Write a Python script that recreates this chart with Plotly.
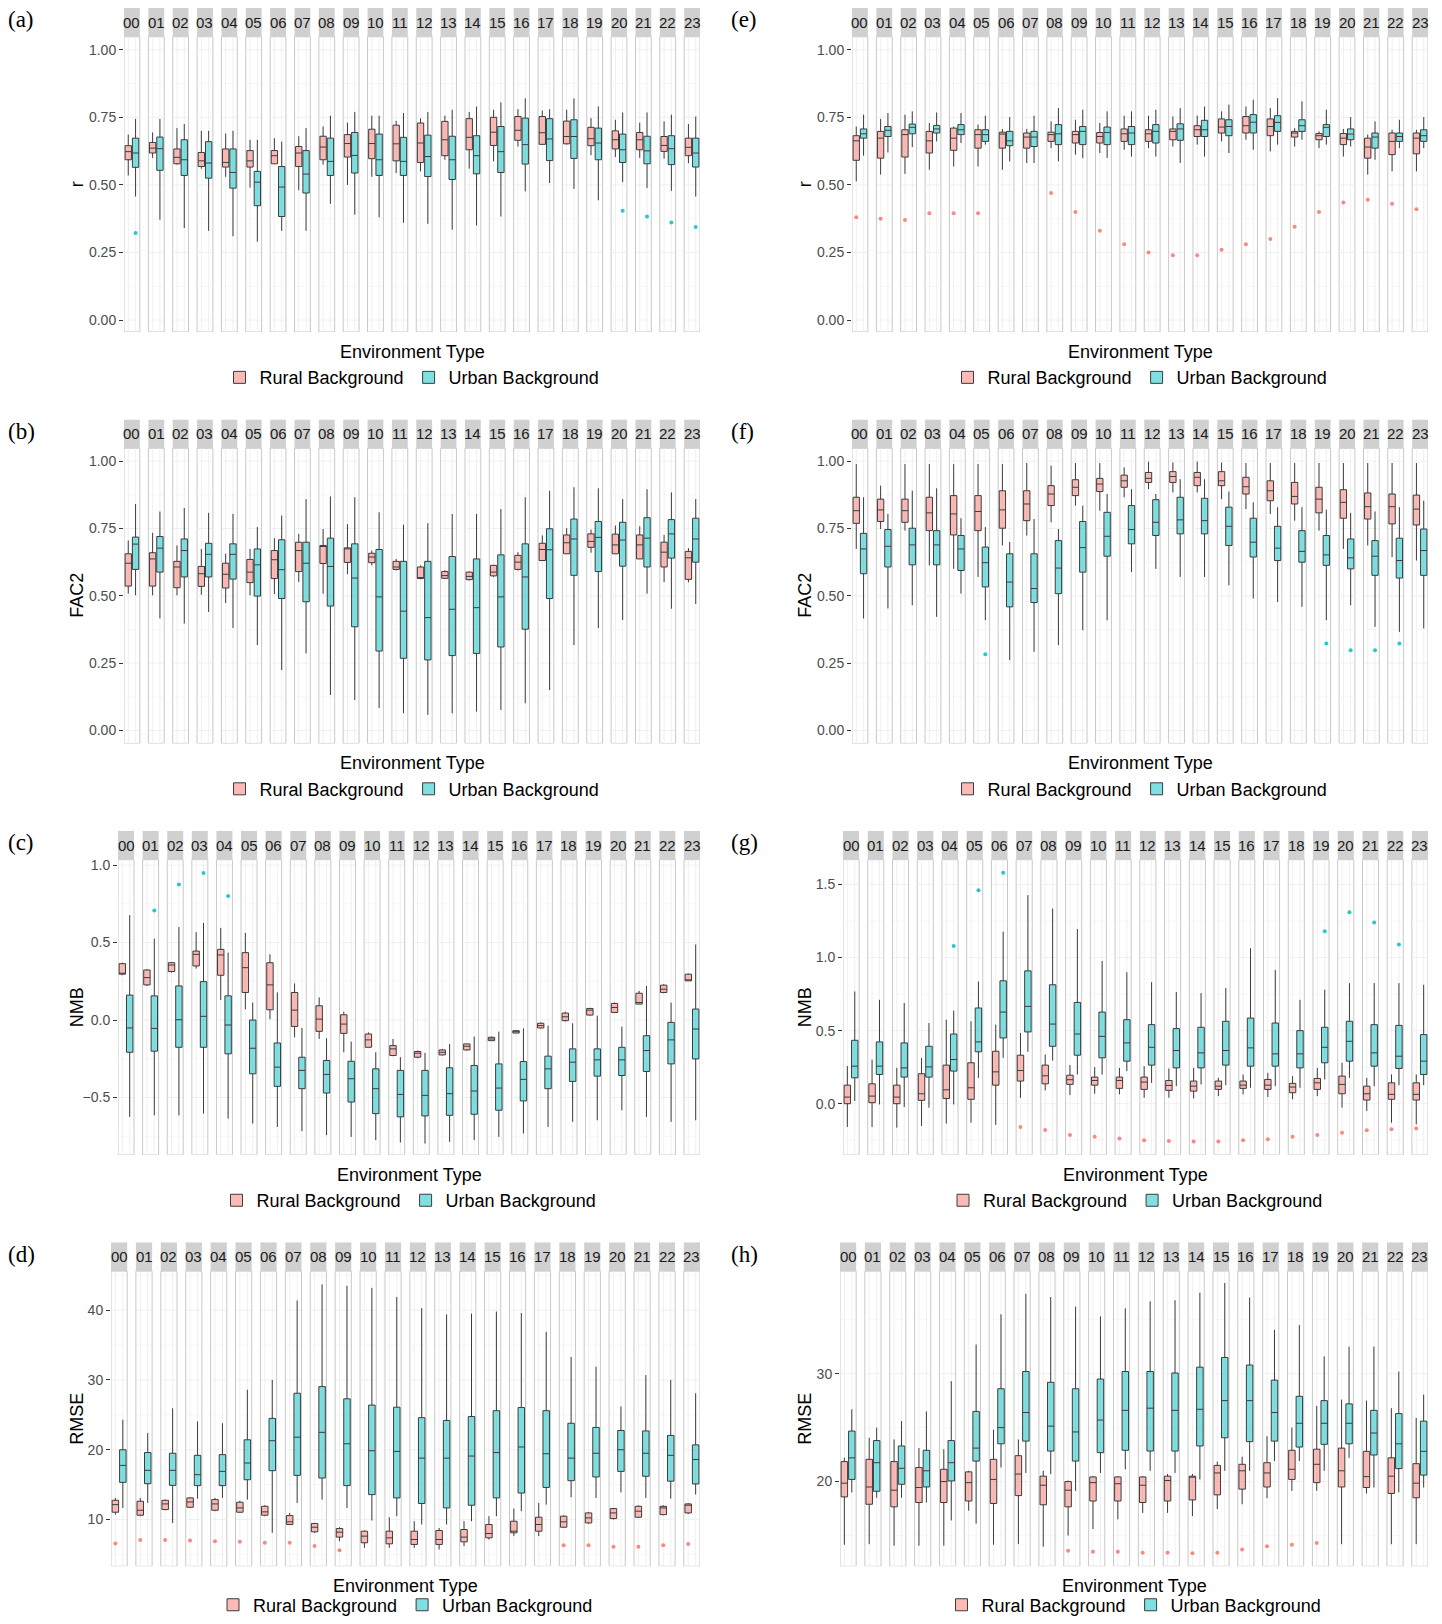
import plotly.graph_objects as go

# hour facets and groups
HOURS = ["00", "01", "02", "03", "04", "05", "06", "07", "08", "09", "10", "11",
         "12", "13", "14", "15", "16", "17", "18", "19", "20", "21", "22", "23"]
GROUPS = ["Rural Background", "Urban Background"]

# ---- (a) r, left column ----
A_RURAL_LO = [.535, .60, .575, .56, .53, .49, .58, .48, .575, .50, .53, .544, .55, .593, .56, .587, .642, .649, .649, .61, .603, .60, .597, .58]
A_RURAL_Q1 = [.593, .618, .578, .568, .566, .566, .578, .568, .593, .603, .597, .589, .583, .608, .63, .646, .665, .65, .652, .645, .633, .63, .624, .608]
A_RURAL_MED = [.623, .636, .602, .589, .583, .589, .608, .618, .64, .653, .653, .652, .655, .667, .676, .695, .702, .693, .679, .671, .667, .667, .646, .639]
A_RURAL_Q3 = [.645, .657, .633, .62, .633, .627, .627, .642, .68, .686, .706, .721, .729, .735, .745, .75, .753, .753, .736, .713, .70, .694, .679, .673]
A_RURAL_HI = [.686, .694, .71, .70, .69, .667, .673, .68, .716, .73, .756, .737, .746, .756, .77, .778, .78, .775, .778, .747, .741, .73, .735, .725]
A_URBAN_LO = [.457, .371, .34, .33, .31, .29, .33, .33, .43, .39, .38, .36, .356, .334, .35, .383, .476, .507, .485, .443, .51, .488, .478, .457]
A_URBAN_Q1 = [.565, .554, .535, .525, .488, .423, .383, .47, .535, .544, .535, .535, .531, .52, .541, .546, .577, .59, .598, .593, .583, .578, .575, .566]
A_URBAN_MED = [.618, .634, .593, .581, .546, .51, .492, .54, .587, .609, .593, .587, .605, .593, .608, .623, .649, .67, .679, .655, .63, .626, .634, .618]
A_URBAN_Q3 = [.673, .677, .667, .66, .633, .55, .568, .627, .673, .694, .688, .676, .684, .68, .682, .716, .747, .745, .741, .71, .688, .68, .682, .673]
A_URBAN_HI = [.744, .744, .725, .70, .70, .667, .66, .71, .756, .77, .756, .766, .77, .778, .79, .805, .82, .78, .82, .79, .768, .768, .76, .753]
A_URBAN_OUT_H = ["00", "20", "21", "22", "23"]
A_URBAN_OUT_V = [.322, .404, .383, .361, .344]

# ---- (b) FAC2, left column ----
B_RURAL_LO = [.508, .502, .502, .504, .473, .502, .506, .551, .508, .58, .613, .594, .562, .562, .557, .57, .594, .631, .656, .66, .656, .637, .551, .55]
B_RURAL_Q1 = [.536, .536, .53, .535, .529, .549, .564, .59, .62, .624, .623, .598, .564, .565, .56, .574, .598, .631, .656, .68, .656, .637, .607, .561]
B_RURAL_MED = [.621, .637, .607, .582, .58, .588, .634, .668, .683, .677, .644, .607, .567, .575, .572, .588, .625, .672, .697, .702, .689, .689, .662, .641]
B_RURAL_Q3 = [.656, .66, .628, .609, .621, .635, .668, .699, .687, .678, .658, .628, .607, .59, .588, .613, .65, .695, .726, .73, .729, .726, .699, .665]
B_RURAL_HI = [.705, .734, .687, .674, .656, .674, .714, .73, .748, .766, .668, .637, .613, .595, .59, .615, .662, .724, .751, .746, .761, .758, .726, .677]
B_URBAN_LO = [.502, .416, .397, .44, .381, .317, .224, .286, .132, .113, .083, .064, .058, .064, .07, .076, .101, .15, .317, .38, .41, .508, .452, .47]
B_URBAN_Q1 = [.598, .588, .57, .57, .562, .499, .49, .478, .462, .385, .295, .268, .262, .278, .286, .31, .376, .49, .576, .59, .61, .607, .64, .625]
B_URBAN_MED = [.692, .677, .668, .654, .654, .615, .597, .621, .609, .566, .496, .443, .419, .45, .456, .496, .57, .671, .711, .717, .707, .714, .73, .711]
B_URBAN_Q3 = [.718, .72, .711, .695, .693, .674, .708, .699, .714, .693, .672, .628, .628, .646, .637, .652, .693, .749, .785, .776, .773, .79, .783, .788]
B_URBAN_HI = [.841, .813, .826, .808, .804, .755, .798, .859, .869, .866, .81, .764, .77, .804, .804, .822, .866, .89, .903, .899, .859, .896, .884, .859]

# ---- (c) NMB, left column ----
C_RURAL_LO = [.289, .22, .306, .332, .13, .07, .006, -.111, -.122, -.208, -.176, -.233, -.246, -.229, -.197, -.133, -.084, -.054, -.009, .028, .045, .103, .173, .253]
C_RURAL_Q1 = [.296, .227, .313, .349, .289, .178, .066, -.041, -.073, -.086, -.176, -.229, -.24, -.225, -.193, -.133, -.084, -.051, -.004, .032, .049, .103, .178, .253]
C_RURAL_MED = [.302, .274, .355, .424, .42, .338, .227, .064, .006, -.026, -.128, -.186, -.214, -.208, -.169, -.122, -.075, -.036, .021, .064, .081, .113, .199, .259]
C_RURAL_Q3 = [.364, .323, .37, .445, .456, .435, .37, .178, .092, .034, -.09, -.165, -.203, -.193, -.154, -.111, -.069, -.021, .045, .075, .107, .173, .225, .296]
C_RURAL_HI = [.37, .328, .375, .567, .595, .563, .424, .236, .146, .054, -.079, -.122, -.197, -.186, -.154, -.107, -.064, -.015, .054, .075, .113, .188, .231, .30]
C_URBAN_LO = [-.625, -.615, -.615, -.604, -.636, -.668, -.69, -.717, -.743, -.754, -.775, -.79, -.797, -.786, -.775, -.754, -.732, -.69, -.657, -.647, -.582, -.625, -.657, -.647]
C_URBAN_Q1 = [-.208, -.201, -.176, -.176, -.218, -.347, -.428, -.443, -.471, -.529, -.604, -.625, -.619, -.615, -.608, -.582, -.522, -.443, -.396, -.362, -.358, -.332, -.283, -.251]
C_URBAN_MED = [-.051, -.054, .002, .024, -.032, -.182, -.304, -.325, -.351, -.379, -.443, -.48, -.486, -.475, -.458, -.439, -.383, -.315, -.272, -.257, -.257, -.197, -.128, -.058]
C_URBAN_Q3 = [.161, .156, .22, .248, .156, 0, -.148, -.24, -.261, -.266, -.315, -.325, -.325, -.308, -.293, -.283, -.268, -.233, -.186, -.186, -.176, -.101, -.015, .071]
C_URBAN_HI = [.677, .525, .60, .627, .435, .113, .178, -.051, -.118, -.139, -.208, -.24, -.212, -.154, -.107, -.075, -.054, -.036, -.021, .028, -.043, .22, .113, .488]
C_URBAN_OUT_H = ["01", "02", "03", "04"]
C_URBAN_OUT_V = [.707, .874, .949, .80]

# ---- (d) RMSE, left column ----
D_RURAL_LO = [10.7, 10.48, 11.33, 11.67, 11.2, 10.95, 10.48, 9.29, 8.1, 6.9, 5.95, 5.95, 5.95, 5.7, 6.2, 7.14, 7.62, 7.62, 8.8, 9.38, 10.0, 10.24, 10.62, 10.8]
D_RURAL_Q1 = [11.05, 10.62, 11.43, 11.76, 11.33, 11.05, 10.62, 9.29, 8.24, 7.48, 6.67, 6.52, 6.43, 6.43, 6.8, 7.38, 8.1, 8.33, 8.9, 9.52, 10.14, 10.33, 10.7, 10.95]
D_RURAL_MED = [12.14, 11.33, 12.24, 12.52, 12.24, 11.67, 11.1, 9.67, 8.9, 8.19, 7.62, 7.38, 7.14, 7.14, 7.48, 8.0, 8.33, 9.29, 9.67, 10.24, 10.95, 11.2, 11.67, 12.05]
D_RURAL_Q3 = [12.76, 12.62, 12.76, 13.1, 12.86, 12.48, 11.9, 10.57, 9.43, 8.71, 8.33, 8.33, 8.33, 8.43, 8.57, 9.29, 9.76, 10.33, 10.48, 10.95, 11.57, 11.9, 11.9, 12.24]
D_RURAL_HI = [13.1, 13.1, 12.86, 13.2, 13.1, 12.7, 12.05, 10.95, 9.52, 8.9, 8.43, 10.33, 9.76, 8.8, 9.76, 10.48, 11.57, 12.38, 10.62, 11.1, 11.67, 12.05, 12.05, 12.38]
D_URBAN_LO = [11.67, 12.38, 9.5, 13.0, 13.1, 12.86, 8.1, 12.38, 12.86, 11.67, 9.86, 10.48, 9.3, 9.3, 9.76, 10.48, 11.2, 12.14, 13.2, 13.1, 13.9, 13.1, 13.0, 13.6]
D_URBAN_Q1 = [15.33, 15.14, 14.9, 14.86, 14.86, 15.7, 17.0, 16.33, 15.95, 14.86, 13.57, 13.1, 12.3, 11.67, 12.05, 13.1, 13.8, 14.6, 15.57, 16.1, 16.9, 16.2, 15.5, 15.1]
D_URBAN_MED = [17.76, 17.05, 17.05, 16.43, 16.9, 18.1, 21.3, 21.8, 22.5, 20.86, 19.86, 19.76, 18.8, 18.8, 19.1, 19.6, 20.4, 19.43, 18.8, 19.5, 20.0, 19.5, 19.2, 18.6]
D_URBAN_Q3 = [20.0, 19.6, 19.5, 19.2, 19.3, 21.43, 24.5, 28.1, 29.05, 27.3, 26.4, 26.1, 24.6, 24.2, 24.76, 25.6, 26.05, 25.6, 23.8, 23.2, 22.76, 22.7, 22.05, 20.7]
D_URBAN_HI = [24.3, 22.4, 25.95, 24.05, 23.8, 28.6, 30.0, 41.4, 43.7, 43.5, 43.2, 41.9, 40.3, 39.4, 39.5, 39.8, 39.6, 36.9, 33.3, 31.9, 26.2, 30.7, 30.0, 28.1]
D_RURAL_OUT_H = ["00", "01", "02", "03", "04", "05", "06", "07", "08", "09", "18", "19", "20", "21", "22", "23"]
D_RURAL_OUT_V = [6.57, 7.05, 7.05, 7.0, 6.9, 6.8, 6.67, 6.67, 6.2, 5.6, 6.33, 6.33, 6.1, 6.1, 6.33, 6.5]

# ---- (e) r, right column ----
E_RURAL_LO = [.513, .538, .541, .556, .568, .568, .556, .581, .636, .612, .618, .63, .636, .642, .649, .661, .667, .624, .642, .636, .605, .538, .55, .55]
E_RURAL_Q1 = [.591, .599, .603, .618, .628, .636, .636, .636, .661, .655, .655, .661, .661, .667, .679, .692, .692, .682, .677, .667, .649, .599, .612, .615]
E_RURAL_MED = [.663, .673, .686, .663, .673, .686, .688, .677, .686, .686, .679, .689, .689, .698, .704, .714, .719, .716, .692, .682, .673, .64, .661, .673]
E_RURAL_Q3 = [.682, .698, .704, .698, .71, .704, .695, .692, .695, .698, .694, .707, .704, .707, .719, .744, .753, .744, .698, .69, .69, .673, .692, .692]
E_RURAL_HI = [.716, .744, .76, .729, .716, .723, .707, .707, .735, .741, .729, .756, .756, .753, .756, .772, .79, .784, .71, .698, .707, .686, .704, .704]
E_URBAN_LO = [.608, .62, .64, .661, .655, .649, .587, .581, .587, .599, .60, .605, .605, .581, .605, .618, .63, .649, .667, .649, .642, .593, .636, .636]
E_URBAN_Q1 = [.673, .679, .689, .692, .686, .661, .645, .642, .649, .649, .649, .649, .655, .665, .679, .682, .692, .698, .698, .679, .667, .636, .661, .661]
E_URBAN_MED = [.689, .702, .713, .707, .704, .686, .663, .677, .689, .698, .694, .692, .698, .707, .704, .716, .732, .731, .719, .713, .688, .677, .679, .682]
E_URBAN_Q3 = [.707, .716, .725, .72, .723, .704, .698, .698, .723, .716, .714, .716, .723, .726, .739, .741, .76, .756, .741, .723, .707, .692, .692, .704]
E_URBAN_HI = [.76, .766, .772, .768, .766, .756, .751, .756, .784, .778, .772, .772, .778, .784, .79, .797, .815, .821, .809, .778, .751, .735, .741, .751]
E_RURAL_OUT_H = ["00", "01", "02", "03", "04", "05", "08", "09", "10", "11", "12", "13", "14", "15", "16", "17", "18", "19", "20", "21", "22", "23"]
E_RURAL_OUT_V = [.38, .375, .37, .395, .395, .395, .47, .40, .33, .28, .25, .24, .24, .26, .28, .30, .345, .40, .435, .445, .43, .41]

# ---- (f) FAC2, right column ----
F_RURAL_LO = [.674, .748, .742, .613, .60, .57, .687, .724, .773, .835, .816, .866, .896, .884, .884, .859, .822, .804, .779, .742, .674, .687, .644, .631]
F_RURAL_Q1 = [.769, .776, .773, .742, .726, .742, .751, .779, .835, .872, .887, .903, .921, .921, .909, .909, .878, .853, .841, .808, .788, .785, .767, .763]
F_RURAL_MED = [.816, .819, .816, .808, .804, .813, .819, .841, .878, .903, .915, .927, .936, .943, .94, .927, .905, .89, .869, .859, .847, .831, .831, .822]
F_RURAL_Q3 = [.866, .859, .859, .866, .872, .872, .89, .89, .909, .931, .936, .948, .958, .961, .958, .961, .94, .927, .921, .903, .894, .882, .878, .874]
F_RURAL_HI = [.989, .909, .989, .989, .989, .989, .989, .993, .983, .993, .993, .977, .998, .995, .998, .995, .993, .993, .993, .993, .993, .993, .993, .993]
F_URBAN_LO = [.416, .453, .465, .422, .508, .409, .261, .292, .317, .372, .409, .588, .60, .57, .57, .539, .49, .477, .459, .409, .465, .385, .366, .379]
F_URBAN_Q1 = [.582, .607, .615, .615, .594, .533, .459, .475, .508, .588, .647, .693, .724, .73, .73, .687, .644, .631, .625, .613, .60, .576, .566, .576]
F_URBAN_MED = [.674, .684, .689, .689, .674, .623, .551, .527, .603, .679, .721, .746, .773, .782, .779, .758, .699, .677, .665, .652, .641, .647, .631, .668]
F_URBAN_Q3 = [.732, .746, .751, .742, .724, .681, .656, .656, .705, .776, .81, .835, .857, .866, .862, .829, .788, .758, .742, .724, .711, .705, .714, .748]
F_URBAN_HI = [.866, .804, .89, .899, .788, .755, .70, .785, .748, .835, .878, .896, .878, .933, .933, .887, .847, .829, .829, .82, .808, .813, .829, .853]
F_URBAN_OUT_H = ["05", "19", "20", "21", "22"]
F_URBAN_OUT_V = [.283, .323, .298, .298, .323]

# ---- (g) NMB, right column ----
G_RURAL_LO = [-.159, -.159, -.164, -.152, -.136, -.13, -.145, .04, .091, .059, .068, .064, .041, .041, .036, .052, .064, .045, .03, .052, -.027, -.05, -.13, -.141]
G_RURAL_Q1 = [0, .007, 0, .023, .036, .03, .127, .155, .136, .132, .127, .105, .098, .091, .086, .098, .105, .098, .075, .098, .068, .025, .03, .025]
G_RURAL_MED = [.045, .052, .045, .068, .095, .109, .218, .227, .191, .164, .159, .159, .148, .125, .12, .12, .127, .127, .114, .143, .132, .068, .064, .064]
G_RURAL_Q3 = [.127, .136, .127, .205, .264, .28, .359, .332, .264, .195, .182, .182, .182, .159, .155, .155, .155, .166, .139, .173, .189, .12, .143, .143]
G_RURAL_HI = [.257, .302, .245, .314, .575, .564, .541, .484, .336, .264, .25, .245, .257, .241, .245, .177, .20, .211, .189, .245, .28, .177, .20, .20]
G_URBAN_LO = [.018, -.005, -.023, -.027, -.005, .177, .314, .355, .295, .20, .20, .223, .143, .12, .132, .127, .109, .12, .109, .166, .177, .12, .127, .127]
G_URBAN_Q1 = [.177, .20, .182, .182, .223, .355, .45, .491, .393, .332, .314, .291, .264, .245, .245, .264, .257, .257, .245, .28, .291, .257, .241, .20]
G_URBAN_MED = [.257, .257, .245, .252, .302, .423, .627, .666, .545, .477, .461, .416, .386, .364, .348, .364, .382, .341, .341, .386, .427, .348, .325, .291]
G_URBAN_Q3 = [.434, .423, .416, .393, .477, .655, .841, .909, .814, .693, .627, .575, .541, .514, .523, .564, .586, .552, .50, .523, .564, .541, .536, .473]
G_URBAN_HI = [.768, .711, .689, .552, .636, .836, 1.177, 1.427, 1.336, 1.195, .977, .90, .832, .764, .757, .791, 1.064, .916, .711, .78, .825, .825, .825, .814]
G_RURAL_OUT_H = ["07", "08", "09", "10", "11", "12", "13", "14", "15", "16", "17", "18", "19", "20", "21", "22", "23"]
G_RURAL_OUT_V = [-.16, -.18, -.214, -.227, -.239, -.25, -.255, -.259, -.259, -.25, -.243, -.227, -.214, -.198, -.182, -.175, -.17]
G_URBAN_OUT_H = ["04", "05", "06", "19", "20", "21", "22"]
G_URBAN_OUT_V = [1.08, 1.46, 1.58, 1.18, 1.31, 1.24, 1.09]

# ---- (h) RMSE, right column ----
H_RURAL_LO = [14.15, 14.2, 14.06, 14.06, 14.06, 17.3, 14.15, 14.2, 13.97, 15.0, 15.6, 16.5, 17.1, 17.1, 16.8, 17.45, 17.9, 18.46, 19.14, 19.14, 14.2, 18.9, 14.2, 14.2]
H_RURAL_Q1 = [18.58, 17.9, 17.66, 18.06, 18.06, 18.2, 17.97, 18.7, 17.85, 17.66, 18.2, 18.2, 18.06, 18.2, 18.3, 18.77, 19.3, 19.5, 20.2, 19.9, 19.5, 19.45, 18.9, 18.5]
H_RURAL_MED = [19.85, 19.5, 19.2, 19.45, 20.0, 19.9, 20.2, 20.7, 19.66, 19.2, 19.9, 19.8, 19.66, 20.1, 20.46, 20.8, 21.0, 20.8, 21.14, 21.6, 21.0, 20.46, 20.5, 19.85]
H_RURAL_Q3 = [21.85, 22.06, 21.85, 21.3, 21.14, 20.9, 22.06, 22.4, 20.5, 20.0, 20.43, 20.43, 20.43, 20.5, 20.5, 21.5, 21.6, 21.75, 22.9, 23.0, 23.1, 22.8, 22.2, 21.66]
H_RURAL_HI = [22.2, 24.06, 23.9, 23.1, 23.0, 21.0, 24.8, 23.9, 21.0, 20.1, 20.5, 20.5, 20.5, 20.7, 20.7, 21.85, 22.3, 24.2, 25.0, 27.0, 27.6, 27.5, 26.8, 25.9]
H_URBAN_LO = [19.0, 18.5, 18.5, 18.06, 16.4, 16.1, 21.3, 20.8, 20.7, 19.14, 20.8, 21.14, 21.0, 20.8, 20.2, 21.0, 21.0, 21.9, 21.9, 21.0, 22.2, 19.45, 19.0, 19.45]
H_URBAN_Q1 = [20.2, 19.1, 19.75, 19.5, 20.06, 21.9, 23.5, 23.75, 22.83, 21.9, 22.68, 22.9, 22.83, 22.83, 23.3, 24.06, 23.7, 23.75, 23.2, 23.45, 23.5, 22.46, 21.2, 20.6]
H_URBAN_MED = [22.2, 21.75, 21.23, 21.0, 21.75, 23.1, 25.0, 26.4, 25.14, 24.6, 25.7, 26.6, 26.8, 26.6, 26.7, 27.5, 27.5, 26.4, 25.4, 25.4, 25.4, 24.5, 23.5, 22.8]
H_URBAN_Q3 = [24.68, 23.8, 23.3, 22.9, 23.8, 26.5, 28.6, 30.2, 29.2, 28.6, 29.5, 30.2, 30.2, 30.06, 30.6, 31.5, 30.8, 29.4, 27.9, 27.5, 27.2, 26.6, 26.3, 25.6]
H_URBAN_HI = [26.7, 25.0, 25.6, 26.5, 29.3, 32.7, 35.5, 37.4, 37.1, 36.2, 35.3, 36.06, 36.7, 36.8, 37.5, 38.4, 37.05, 34.06, 34.5, 31.6, 32.5, 32.5, 30.2, 28.06]
H_RURAL_OUT_H = ["09", "10", "11", "12", "13", "14", "15", "16", "17", "18", "19"]
H_RURAL_OUT_V = [13.6, 13.5, 13.5, 13.4, 13.4, 13.35, 13.4, 13.7, 14.0, 14.15, 14.3]

# ---- page geometry (pixels of the 1442x1624 page) ----
W, H = 1442, 1624
ROW_TOP = [8, 422, 836, 1250]     # top of the grey strip for each row
STRIP_PX, PANEL_PX = 29, 297
COL_RIGHT = [700, 1428]
FACET_W = 0.65                    # facet width in units of one hour slot
OFFSET = 0.15                     # box offset from facet centre
BOX_W = 0.26

FONT = "Liberation Sans, Arial, sans-serif"
RURAL_FILL = "rgba(248,118,109,0.5)"
URBAN_FILL = "rgba(0,191,196,0.5)"
RURAL_DOT = "rgba(248,118,109,0.85)"
URBAN_DOT = "rgba(0,191,196,0.85)"


def px_x(v):
    return v / W


def px_y(v):
    return 1 - v / H


panels = [
    dict(tag="(a)", ytitle="r", col=0, row=0, left=124, yr=(-0.044, 1.048),
         ticks=[0, 0.25, 0.5, 0.75, 1.0], fmt=".2f",
         rural=(A_RURAL_LO, A_RURAL_Q1, A_RURAL_MED, A_RURAL_Q3, A_RURAL_HI),
         urban=(A_URBAN_LO, A_URBAN_Q1, A_URBAN_MED, A_URBAN_Q3, A_URBAN_HI),
         rout=None, uout=(A_URBAN_OUT_H, A_URBAN_OUT_V)),
    dict(tag="(b)", ytitle="FAC2", col=0, row=1, left=124, yr=(-0.048, 1.048),
         ticks=[0, 0.25, 0.5, 0.75, 1.0], fmt=".2f",
         rural=(B_RURAL_LO, B_RURAL_Q1, B_RURAL_MED, B_RURAL_Q3, B_RURAL_HI),
         urban=(B_URBAN_LO, B_URBAN_Q1, B_URBAN_MED, B_URBAN_Q3, B_URBAN_HI),
         rout=None, uout=None),
    dict(tag="(c)", ytitle="NMB", col=0, row=2, left=118, yr=(-0.87, 1.035),
         ticks=[-0.5, 0.0, 0.5, 1.0], fmt=".1f",
         rural=(C_RURAL_LO, C_RURAL_Q1, C_RURAL_MED, C_RURAL_Q3, C_RURAL_HI),
         urban=(C_URBAN_LO, C_URBAN_Q1, C_URBAN_MED, C_URBAN_Q3, C_URBAN_HI),
         rout=None, uout=(C_URBAN_OUT_H, C_URBAN_OUT_V)),
    dict(tag="(d)", ytitle="RMSE", col=0, row=3, left=111, yr=(3.3, 45.6),
         ticks=[10, 20, 30, 40], fmt="d",
         rural=(D_RURAL_LO, D_RURAL_Q1, D_RURAL_MED, D_RURAL_Q3, D_RURAL_HI),
         urban=(D_URBAN_LO, D_URBAN_Q1, D_URBAN_MED, D_URBAN_Q3, D_URBAN_HI),
         rout=(D_RURAL_OUT_H, D_RURAL_OUT_V), uout=None),
    dict(tag="(e)", ytitle="r", col=1, row=0, left=852, yr=(-0.044, 1.048),
         ticks=[0, 0.25, 0.5, 0.75, 1.0], fmt=".2f",
         rural=(E_RURAL_LO, E_RURAL_Q1, E_RURAL_MED, E_RURAL_Q3, E_RURAL_HI),
         urban=(E_URBAN_LO, E_URBAN_Q1, E_URBAN_MED, E_URBAN_Q3, E_URBAN_HI),
         rout=(E_RURAL_OUT_H, E_RURAL_OUT_V), uout=None),
    dict(tag="(f)", ytitle="FAC2", col=1, row=1, left=852, yr=(-0.048, 1.048),
         ticks=[0, 0.25, 0.5, 0.75, 1.0], fmt=".2f",
         rural=(F_RURAL_LO, F_RURAL_Q1, F_RURAL_MED, F_RURAL_Q3, F_RURAL_HI),
         urban=(F_URBAN_LO, F_URBAN_Q1, F_URBAN_MED, F_URBAN_Q3, F_URBAN_HI),
         rout=None, uout=(F_URBAN_OUT_H, F_URBAN_OUT_V)),
    dict(tag="(g)", ytitle="NMB", col=1, row=2, left=843, yr=(-0.35, 1.67),
         ticks=[0.0, 0.5, 1.0, 1.5], fmt=".1f",
         rural=(G_RURAL_LO, G_RURAL_Q1, G_RURAL_MED, G_RURAL_Q3, G_RURAL_HI),
         urban=(G_URBAN_LO, G_URBAN_Q1, G_URBAN_MED, G_URBAN_Q3, G_URBAN_HI),
         rout=(G_RURAL_OUT_H, G_RURAL_OUT_V), uout=(G_URBAN_OUT_H, G_URBAN_OUT_V)),
    dict(tag="(h)", ytitle="RMSE", col=1, row=3, left=840, yr=(12.15, 39.5),
         ticks=[20, 30], fmt="d",
         rural=(H_RURAL_LO, H_RURAL_Q1, H_RURAL_MED, H_RURAL_Q3, H_RURAL_HI),
         urban=(H_URBAN_LO, H_URBAN_Q1, H_URBAN_MED, H_URBAN_Q3, H_URBAN_HI),
         rout=(H_RURAL_OUT_H, H_RURAL_OUT_V), uout=None),
]

fig = go.Figure()
shapes, annotations = [], []
layout = {}
n = len(HOURS)
idx = list(range(n))

for k, p in enumerate(panels, start=1):
    xa = "x" if k == 1 else f"x{k}"
    ya = "y" if k == 1 else f"y{k}"
    leg = "legend" if k == 1 else f"legend{k}"
    lo, top = p["yr"]
    strip_top = top + (top - lo) * STRIP_PX / PANEL_PX
    t = ROW_TOP[p["row"]]
    b = t + STRIP_PX + PANEL_PX
    x0px, x1px = p["left"], COL_RIGHT[p["col"]]

    layout["xaxis" if k == 1 else f"xaxis{k}"] = dict(
        domain=[px_x(x0px), px_x(x1px)], range=[-FACET_W / 2, n - 1 + FACET_W / 2],
        anchor=ya, showticklabels=False, showgrid=False, zeroline=False,
        ticks="", showline=False, fixedrange=True)
    layout["yaxis" if k == 1 else f"yaxis{k}"] = dict(
        domain=[px_y(b), px_y(t)], range=[lo, strip_top], anchor=xa,
        tickvals=p["ticks"], tickformat=p["fmt"], ticks="outside", ticklen=4,
        tickcolor="#333333", tickfont=dict(size=14, color="#4D4D4D", family=FONT),
        showgrid=False, zeroline=False, showline=False, fixedrange=True)

    # facet panels and strips
    for i, h in enumerate(HOURS):
        shapes.append(dict(type="rect", xref=xa, yref=ya, layer="below",
                           x0=i - FACET_W / 2, x1=i + FACET_W / 2, y0=lo, y1=top,
                           fillcolor="white", line=dict(color="#C8C8C8", width=1)))
        shapes.append(dict(type="rect", xref=xa, yref=ya, layer="below",
                           x0=i - FACET_W / 2, x1=i + FACET_W / 2, y0=top, y1=strip_top,
                           fillcolor="#D0D0D0", line=dict(width=0)))
        annotations.append(dict(text=h, xref=xa, yref=ya, x=i, y=(top + strip_top) / 2,
                                xanchor="center", yanchor="middle", showarrow=False,
                                font=dict(size=15, color="#1A1A1A", family=FONT)))

    # grid lines inside each facet only, kept under the boxes as path shapes
    ticks = p["ticks"]
    step = ticks[1] - ticks[0]
    minors = [ticks[0] - step / 2] + [v + step / 2 for v in ticks]
    minors = [v for v in minors if lo < v < top]
    for vals, col, vertical in ((minors, "#F5F5F5", False), (ticks, "#ECECEC", True)):
        segs = []
        for v in vals:
            for i in idx:
                segs.append(f"M{i - FACET_W / 2 + 0.02:.4f},{v} L{i + FACET_W / 2 - 0.02:.4f},{v}")
        if vertical:
            for i in idx:
                for off in (-OFFSET, OFFSET):
                    segs.append(f"M{i + off:.4f},{lo} L{i + off:.4f},{top}")
        shapes.append(dict(type="path", xref=xa, yref=ya, layer="below",
                           path=" ".join(segs), line=dict(color=col, width=0.8)))

    # boxes
    for g, (name, stats, fill) in enumerate(((GROUPS[0], p["rural"], RURAL_FILL),
                                             (GROUPS[1], p["urban"], URBAN_FILL))):
        off = -OFFSET if g == 0 else OFFSET
        s_lo, s_q1, s_med, s_q3, s_hi = stats
        fig.add_trace(go.Box(
            x=[i + off for i in idx], lowerfence=s_lo, q1=s_q1, median=s_med, q3=s_q3,
            upperfence=s_hi, name=name, xaxis=xa, yaxis=ya, width=BOX_W,
            fillcolor=fill, line=dict(color="#3C3C3C", width=1), whiskerwidth=0,
            boxpoints=False, legend=leg, showlegend=True, hoverinfo="skip"))

    # isolated points
    for out, off, col in ((p["rout"], -OFFSET, RURAL_DOT), (p["uout"], OFFSET, URBAN_DOT)):
        if out is None:
            continue
        hrs, vals = out
        fig.add_trace(go.Scatter(x=[HOURS.index(h) + off for h in hrs], y=vals, mode="markers",
                                 xaxis=xa, yaxis=ya, marker=dict(size=4, color=col),
                                 hoverinfo="skip", showlegend=False))

    # legend under each panel
    cx = (x0px + x1px) / 2
    layout[leg] = dict(orientation="h", x=px_x(cx), xanchor="center",
                       y=px_y(min(b + 46, 1615)), yanchor="middle", bgcolor="rgba(0,0,0,0)",
                       font=dict(size=18, color="#000000", family=FONT),
                       itemwidth=30, tracegroupgap=0)

    # texts
    annotations.append(dict(text="Environment Type", xref="paper", yref="paper",
                            x=px_x(cx), y=px_y(b + 20), xanchor="center", yanchor="middle",
                            showarrow=False, font=dict(size=18, color="#000000", family=FONT)))
    ytx = 77 if p["col"] == 0 else 805
    annotations.append(dict(text=p["ytitle"], xref="paper", yref="paper", textangle=-90,
                            x=px_x(ytx), y=px_y(t + STRIP_PX + PANEL_PX / 2),
                            xanchor="center", yanchor="middle", showarrow=False,
                            font=dict(size=18, color="#000000", family=FONT)))
    tagx = 6 if p["col"] == 0 else 729
    annotations.append(dict(text=p["tag"], xref="paper", yref="paper", x=px_x(tagx),
                            y=px_y(t + 12), xanchor="left", yanchor="middle",
                            showarrow=False,
                            font=dict(size=23, color="#000000", family="Liberation Serif, Times New Roman, serif")))

fig.update_layout(
    width=W, height=H, margin=dict(l=0, r=0, t=0, b=0),
    paper_bgcolor="white", plot_bgcolor="rgba(0,0,0,0)",
    shapes=shapes, annotations=annotations, boxmode="overlay",
    font=dict(family=FONT), **layout)

# let the figure fill the page exactly (no default body margin), no mode bar
fig.write_html(
    "out.html",
    config={"displayModeBar": False},
    post_script="document.body.style.margin='0';"
                "document.documentElement.style.overflow='hidden';"
                "document.getElementById('{plot_id}').style.display='block';")
